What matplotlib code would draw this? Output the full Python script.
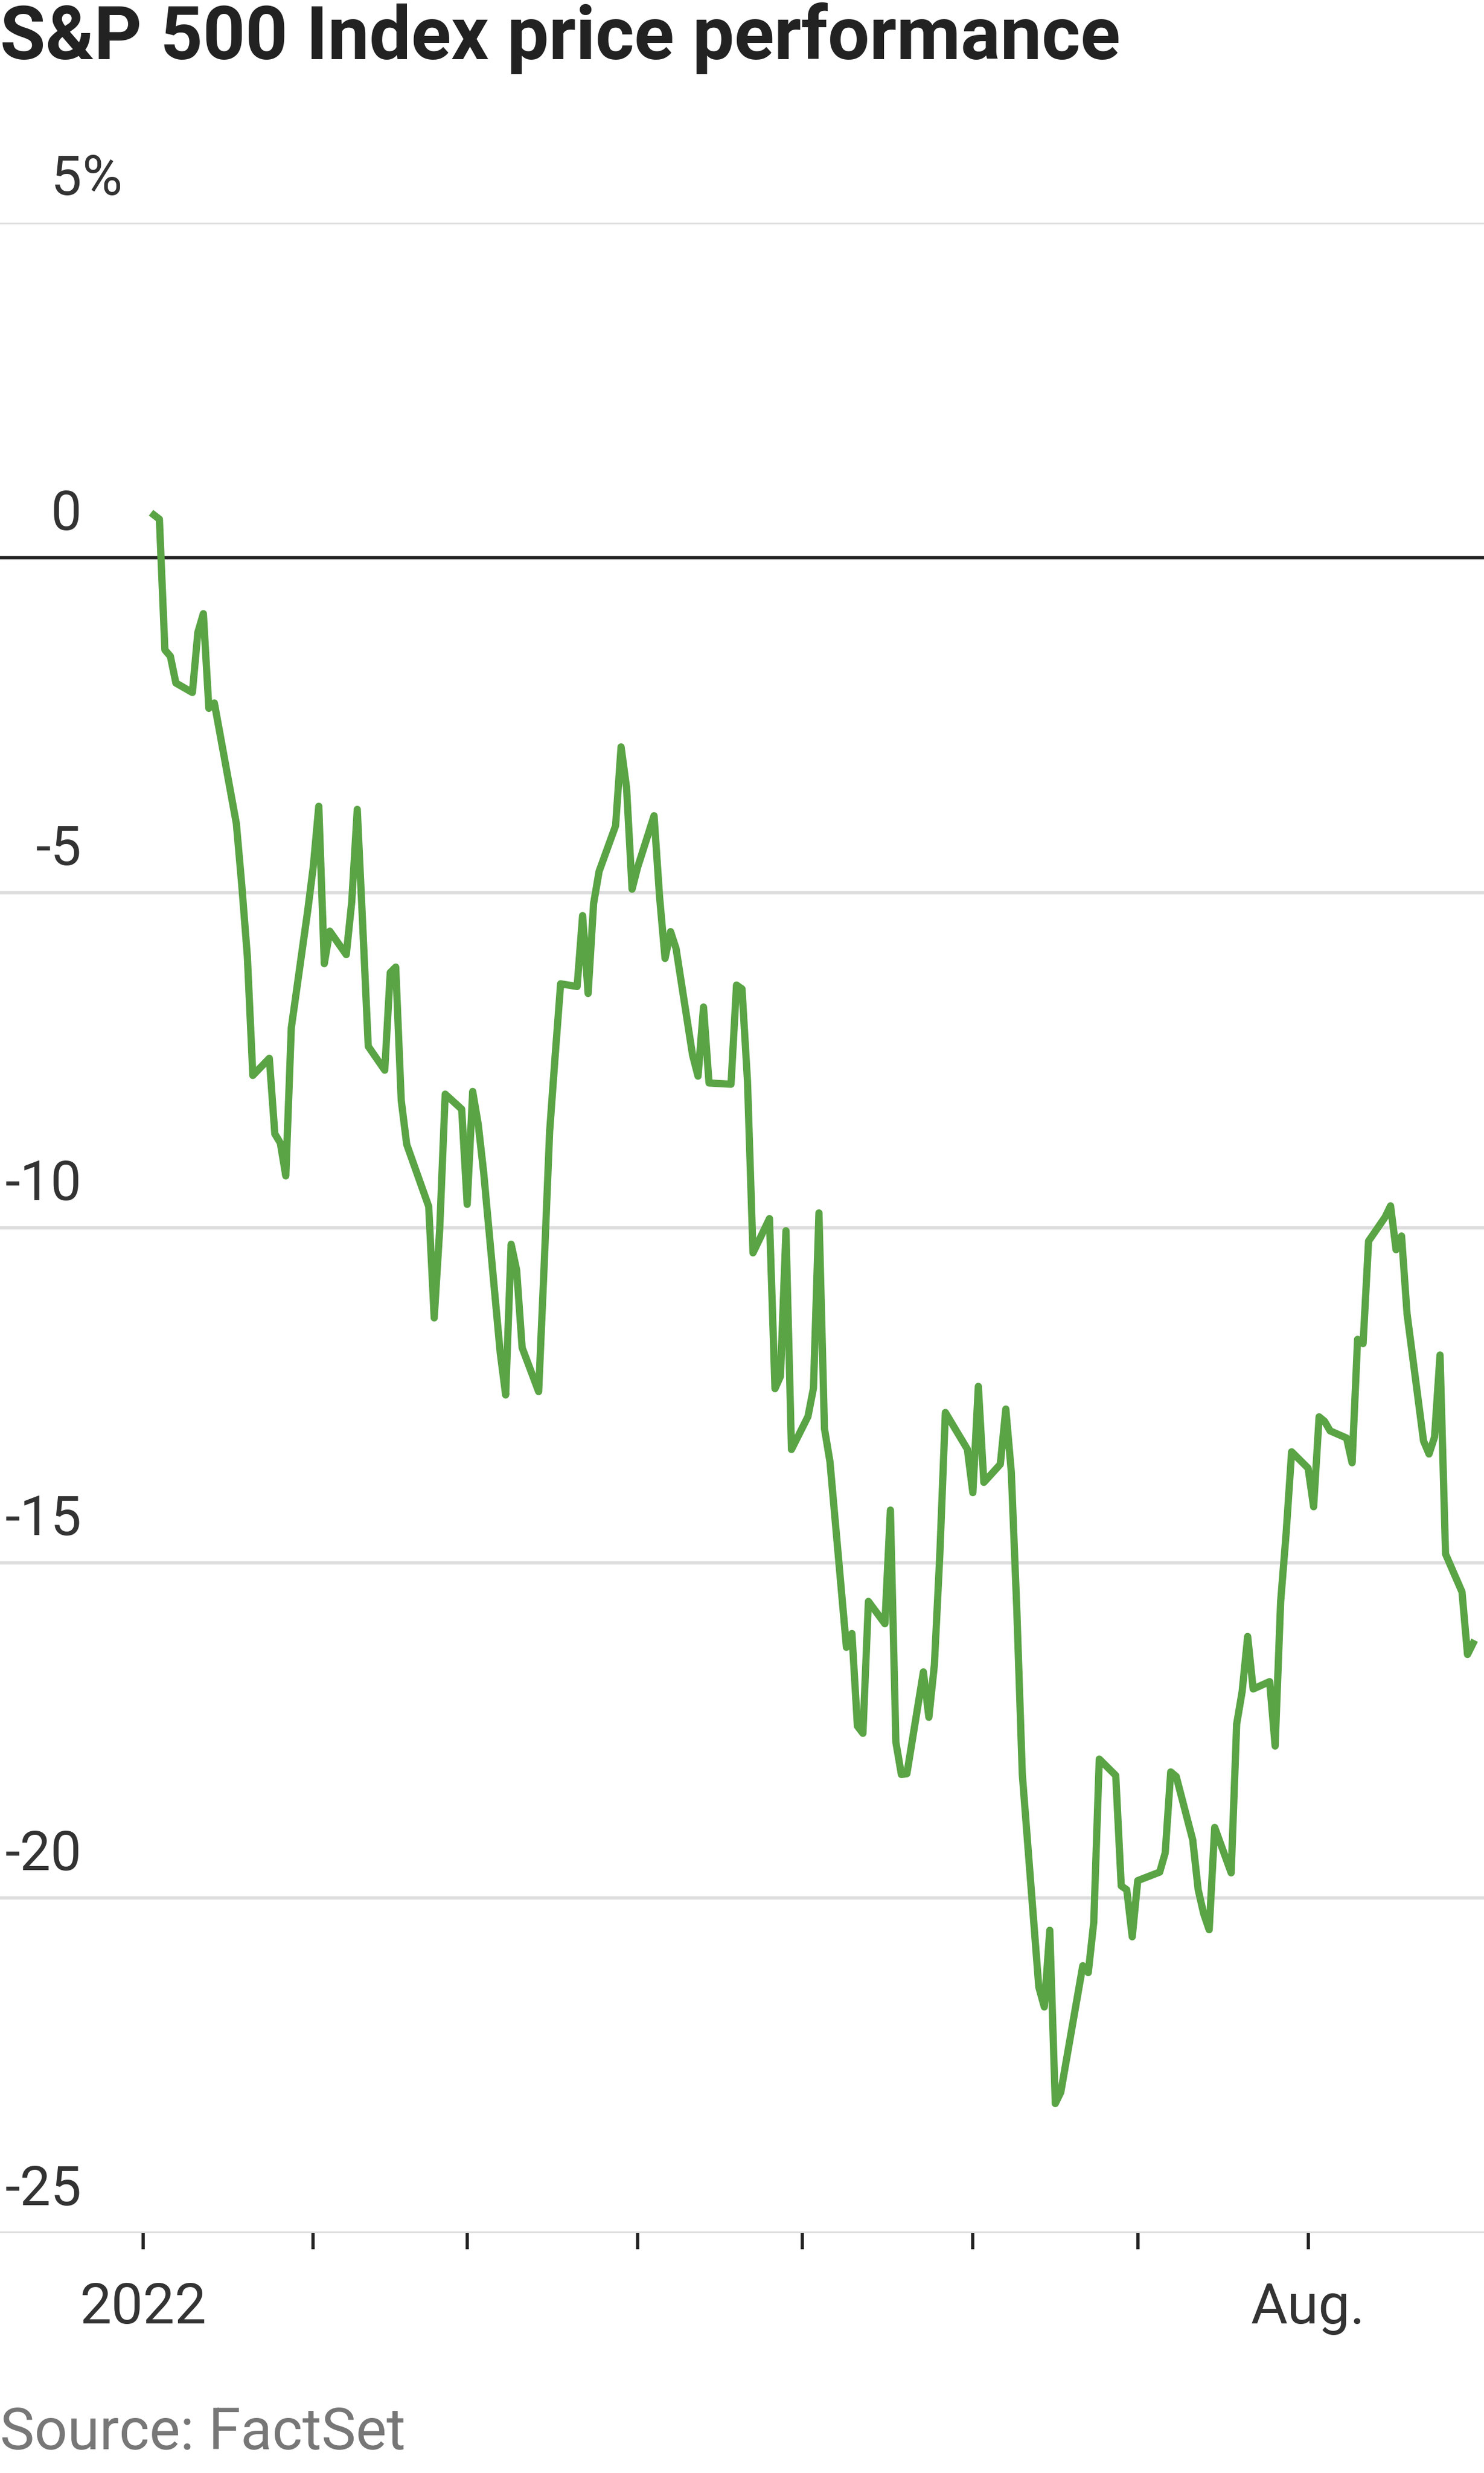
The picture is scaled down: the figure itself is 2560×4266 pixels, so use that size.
import matplotlib
matplotlib.use("Agg")
import matplotlib.pyplot as plt
import pandas as pd
import numpy as np

base = 4766.18
dates = ["2022-01-03","2022-01-04","2022-01-05","2022-01-06","2022-01-07","2022-01-10","2022-01-11","2022-01-12","2022-01-13","2022-01-14",
"2022-01-18","2022-01-19","2022-01-20","2022-01-21","2022-01-24","2022-01-25","2022-01-26","2022-01-27","2022-01-28","2022-01-31",
"2022-02-01","2022-02-02","2022-02-03","2022-02-04","2022-02-07","2022-02-08","2022-02-09","2022-02-10","2022-02-11","2022-02-14",
"2022-02-15","2022-02-16","2022-02-17","2022-02-18","2022-02-22","2022-02-23","2022-02-24","2022-02-25","2022-02-28","2022-03-01",
"2022-03-02","2022-03-03","2022-03-04","2022-03-07","2022-03-08","2022-03-09","2022-03-10","2022-03-11","2022-03-14","2022-03-15",
"2022-03-16","2022-03-17","2022-03-18","2022-03-21","2022-03-22","2022-03-23","2022-03-24","2022-03-25","2022-03-28","2022-03-29",
"2022-03-30","2022-03-31","2022-04-01","2022-04-04","2022-04-05","2022-04-06","2022-04-07","2022-04-08","2022-04-11","2022-04-12",
"2022-04-13","2022-04-14","2022-04-18","2022-04-19","2022-04-20","2022-04-21","2022-04-22","2022-04-25","2022-04-26","2022-04-27",
"2022-04-28","2022-04-29","2022-05-02","2022-05-03","2022-05-04","2022-05-05","2022-05-06","2022-05-09","2022-05-10","2022-05-11",
"2022-05-12","2022-05-13","2022-05-16","2022-05-17","2022-05-18","2022-05-19","2022-05-20","2022-05-23","2022-05-24","2022-05-25",
"2022-05-26","2022-05-27","2022-05-31","2022-06-01","2022-06-02","2022-06-03","2022-06-06","2022-06-07","2022-06-08","2022-06-09",
"2022-06-10","2022-06-13","2022-06-14","2022-06-15","2022-06-16","2022-06-17","2022-06-21","2022-06-22","2022-06-23","2022-06-24",
"2022-06-27","2022-06-28","2022-06-29","2022-06-30","2022-07-01","2022-07-05","2022-07-06","2022-07-07","2022-07-08","2022-07-11",
"2022-07-12","2022-07-13","2022-07-14","2022-07-15","2022-07-18","2022-07-19","2022-07-20","2022-07-21","2022-07-22","2022-07-25",
"2022-07-26","2022-07-27","2022-07-28","2022-07-29","2022-08-01","2022-08-02","2022-08-03","2022-08-04","2022-08-05","2022-08-08",
"2022-08-09","2022-08-10","2022-08-11","2022-08-12","2022-08-15","2022-08-16","2022-08-17","2022-08-18","2022-08-19","2022-08-22",
"2022-08-23","2022-08-24","2022-08-25","2022-08-26","2022-08-29","2022-08-30","2022-08-31"]
closes = [4796.56,4793.54,4700.58,4696.05,4677.03,4670.29,4713.07,4726.35,4659.03,4662.85,
4577.11,4532.76,4482.73,4397.94,4410.13,4356.45,4349.93,4326.51,4431.85,4515.55,
4546.54,4589.38,4477.44,4500.53,4483.87,4521.54,4587.18,4504.08,4418.64,4401.67,
4471.07,4475.01,4380.26,4348.87,4304.76,4225.50,4288.70,4384.65,4373.94,4306.26,
4386.54,4363.49,4328.87,4201.09,4170.70,4277.88,4259.52,4204.31,4173.11,4262.45,
4357.86,4411.67,4463.12,4461.18,4511.61,4456.24,4520.16,4543.06,4575.52,4631.60,
4602.45,4530.41,4545.86,4582.64,4525.12,4481.15,4500.21,4488.28,4412.53,4397.45,
4446.59,4392.59,4391.69,4462.21,4459.45,4393.66,4271.78,4296.12,4175.20,4183.96,
4287.50,4131.93,4155.38,4175.48,4300.17,4146.87,4123.34,3991.24,4001.05,3935.18,
3930.08,4023.89,4008.01,4088.85,3923.68,3900.79,3901.36,3973.75,3941.48,3978.73,
4057.84,4158.24,4132.15,4101.23,4176.82,4108.54,4121.43,4160.68,4115.77,4017.82,
3900.86,3749.63,3735.48,3789.99,3666.77,3674.84,3764.79,3759.89,3795.73,3911.74,
3900.11,3821.55,3818.83,3785.38,3825.33,3831.39,3845.08,3902.62,3899.38,3854.43,
3818.80,3801.78,3790.38,3863.16,3830.85,3936.69,3959.90,3998.95,3961.63,3966.84,
3921.05,4023.61,4072.43,4130.29,4118.63,4091.19,4155.17,4151.94,4145.19,4140.06,
4122.47,4210.24,4207.27,4280.15,4297.14,4305.20,4274.04,4283.74,4228.48,4137.99,
4128.73,4140.77,4199.12,4057.66,4030.61,3986.16,3994.00]

y_ticks = [5, 0, -5, -10, -15, -20, -25]
y_labels = ["5", "0", "-5", "-10", "-15", "-20", "-25"]

d = pd.to_datetime(dates)
pct = (np.array(closes) / base - 1) * 100

fig = plt.figure(figsize=(25.6, 42.66), dpi=100)
ax = fig.add_axes([0, 0.097, 1, 0.813])
ax.set_xlim(pd.Timestamp("2021-12-06"), pd.Timestamp("2022-09-02"))
ax.set_ylim(-25, 5)
for s in ax.spines.values():
    s.set_visible(False)
for t in y_ticks:
    if t == 0:
        ax.axhline(0, color="#222222", lw=4, zorder=2)
    else:
        ax.axhline(t, color="#dddddd", lw=4, zorder=1)
ax.plot(d, pct, color="#5aa445", lw=9, zorder=3, solid_joinstyle="round")
ax.set_yticks([])
for t, lab in zip(y_ticks, y_labels):
    ax.text(0.055, t + 0.25, lab, transform=ax.get_yaxis_transform(), ha="right", va="bottom",
            fontsize=68, color="#333333", family="Roboto")
ax.text(0.055, 5 + 0.25, "%", transform=ax.get_yaxis_transform(), ha="left", va="bottom",
        fontsize=68, color="#333333", family="Roboto")
months = pd.date_range("2022-01-01", "2022-08-01", freq="MS")
ax.set_xticks(months)
ax.set_xticklabels(["2022", "", "", "", "", "", "", "Aug."], fontsize=70, color="#333333", family="Roboto")
ax.tick_params(axis="x", length=20, width=4, color="#222222", pad=40)
fig.text(0.0, 0.97, "S&P 500 Index price performance", fontsize=92, fontweight="bold",
         color="#222222", family="Roboto", ha="left", va="bottom")
fig.text(0.0, 0.005, "Source: FactSet", fontsize=72, color="#777777", family="Roboto", ha="left", va="bottom")
fig.savefig("out.png", dpi=100)
